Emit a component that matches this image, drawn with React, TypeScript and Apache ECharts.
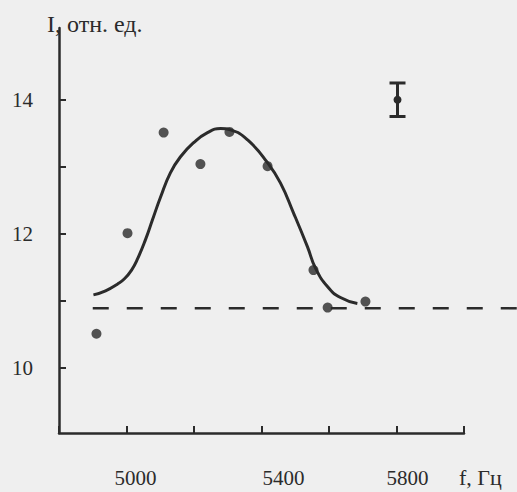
import React, { useEffect, useRef } from "react";
import * as echarts from "echarts";

// measured points (frequency, Hz / intensity, rel. units)
const pointFreq = [4911, 5003, 5110, 5219, 5305, 5418, 5554, 5596, 5708];
const pointIntensity = [10.51, 12.01, 13.51, 13.04, 13.52, 13.01, 11.46, 10.9, 10.99];

// fitted curve
const curveFreq = [4902, 4938, 4973, 4994, 5015, 5033, 5056, 5077, 5101, 5130, 5160, 5199, 5240, 5279, 5308, 5359, 5418, 5456, 5495, 5536, 5560, 5596, 5634, 5684];
const curveIntensity = [11.09, 11.15, 11.25, 11.33, 11.46, 11.63, 11.91, 12.21, 12.55, 12.91, 13.15, 13.36, 13.51, 13.57, 13.55, 13.4, 13.06, 12.76, 12.31, 11.81, 11.49, 11.21, 11.05, 10.96];

// dashed background level (runs past the axis end)
const baselineStart = 4900;
const baselineEnd = 6180;
const baselineLevel = 10.89;

// error-bar sample
const errFreq = [5803];
const errCenter = [14.0];
const errHalf = [0.25];

// axes
const yTickValues = [10, 11, 12, 13, 14];
const yLabelValues = [10, 12, 14];
const xLabelValues = [5000, 5400, 5800];

const FONT = "'Liberation Serif', 'DejaVu Serif', serif";
const INK = "#2b2b2b";

export default function App() {
  const ref = useRef<HTMLDivElement>(null);
  useEffect(() => {
    document.body.style.margin = "0";
    if (!ref.current) return;
    const chart = echarts.init(ref.current, undefined, { renderer: "svg" });
    const labelShift: Record<number, number> = { 5000: 9, 5400: 22, 5800: 11 };
    const rich: Record<string, any> = {};
    xLabelValues.forEach((v) => {
      rich["s" + v] = {
        fontFamily: FONT,
        fontSize: 21,
        color: INK,
        padding: [0, 0, 0, labelShift[v] * 2],
      };
    });
    chart.setOption({
      animation: false,
      backgroundColor: "#efefef",
      title: {
        text: "I, отн. ед.",
        left: 42,
        top: 7,
        textStyle: { fontFamily: FONT, fontSize: 24, fontWeight: "normal", color: INK },
      },
      grid: { left: 59, right: 53, top: 28, bottom: 59 },
      xAxis: {
        type: "value",
        min: 4800,
        max: 6000,
        interval: 200,
        name: "f, Гц",
        nameLocation: "end",
        nameGap: -5,
        nameTextStyle: {
          fontFamily: FONT,
          fontSize: 22,
          color: INK,
          align: "left",
          verticalAlign: "top",
          padding: [33, 0, 0, 0],
        },
        axisLine: { show: true, lineStyle: { color: INK, width: 2.5 } },
        axisTick: { show: true, inside: true, length: 7, lineStyle: { color: INK, width: 2 } },
        splitLine: { show: false },
        axisLabel: {
          customValues: xLabelValues,
          margin: 34,
          fontFamily: FONT,
          fontSize: 21,
          color: INK,
          formatter: (v: number) => `{s${v}|${v}}`,
          rich,
        },
      },
      yAxis: {
        type: "value",
        min: 9.03,
        max: 15.07,
        axisLine: { show: true, lineStyle: { color: INK, width: 2.5 } },
        axisTick: { show: true, inside: true, length: 7, customValues: yTickValues, lineStyle: { color: INK, width: 2 } },
        splitLine: { show: false },
        axisLabel: {
          customValues: yLabelValues,
          margin: 26,
          fontFamily: FONT,
          fontSize: 21,
          color: INK,
        },
      },
      series: [
        {
          type: "custom",
          data: [[baselineStart, baselineLevel, baselineEnd]],
          clip: false,
          renderItem: (params: any, api: any) => {
            const p0 = api.coord([api.value(0), api.value(1)]);
            const w = api.size([api.value(2) - api.value(0), 0])[0];
            return {
              type: "line",
              shape: { x1: p0[0], y1: p0[1], x2: p0[0] + w, y2: p0[1] },
              style: { stroke: INK, lineWidth: 2.5, lineDash: [16, 18] },
            };
          },
          z: 1,
        },
        {
          type: "line",
          data: curveFreq.map((f, i) => [f, curveIntensity[i]]),
          smooth: 0.5,
          symbol: "none",
          lineStyle: { color: INK, width: 3 },
          z: 2,
        },
        {
          type: "scatter",
          data: pointFreq.map((f, i) => [f, pointIntensity[i]]),
          symbol: "circle",
          symbolSize: 10,
          itemStyle: { color: INK },
          z: 3,
        },
        {
          type: "custom",
          data: errFreq.map((f, i) => [f, errCenter[i], errCenter[i] - errHalf[i], errCenter[i] + errHalf[i]]),
          renderItem: (params: any, api: any) => {
            const c = api.coord([api.value(0), api.value(1)]);
            const lo = api.coord([api.value(0), api.value(2)]);
            const hi = api.coord([api.value(0), api.value(3)]);
            const hw = 8;
            const st = { stroke: INK, lineWidth: 3 };
            return {
              type: "group",
              children: [
                { type: "line", shape: { x1: c[0], y1: lo[1], x2: c[0], y2: hi[1] }, style: st },
                { type: "line", shape: { x1: c[0] - hw, y1: lo[1], x2: c[0] + hw, y2: lo[1] }, style: st },
                { type: "line", shape: { x1: c[0] - hw, y1: hi[1], x2: c[0] + hw, y2: hi[1] }, style: st },
                { type: "circle", shape: { cx: c[0], cy: c[1], r: 4 }, style: { fill: INK } },
              ],
            };
          },
          z: 3,
        },
      ],
    });
    return () => chart.dispose();
  }, []);
  return <div ref={ref} style={{ width: 517, height: 492 }} />;
}
